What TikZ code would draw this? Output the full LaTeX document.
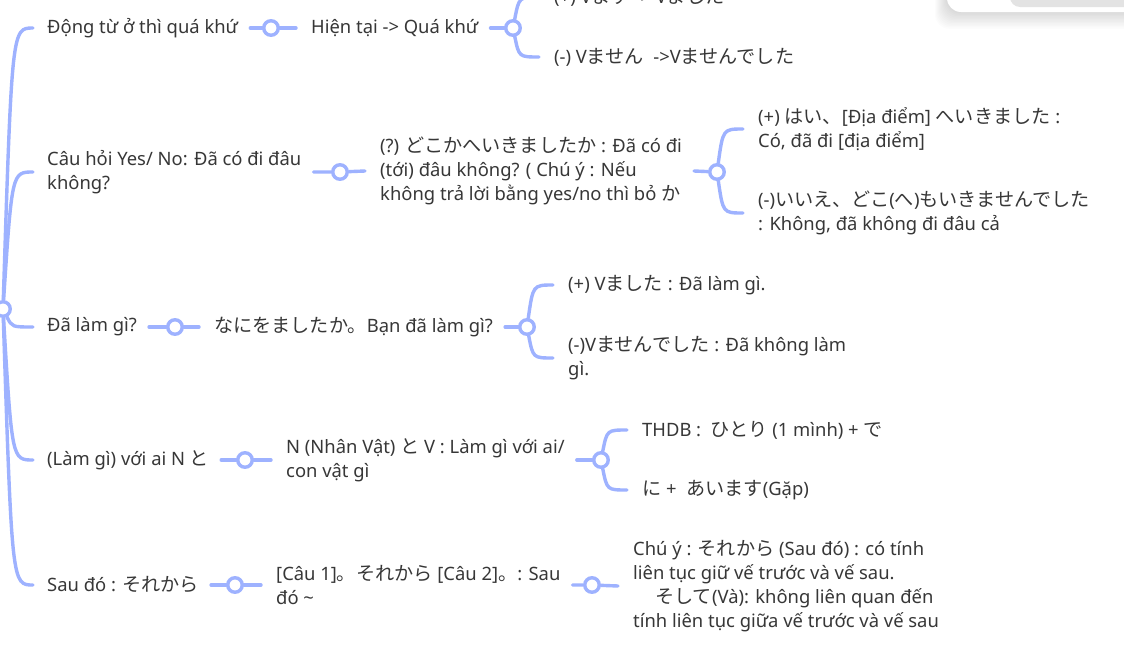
\documentclass[tikz,border=0pt]{standalone}
\usepackage{fontspec}
\setmainfont{Noto Sans}
\newfontfamily\jpf[Scale=1.04]{Noto Sans CJK JP}
\newcommand\jpt[1]{{\jpf #1}}
\usetikzlibrary{backgrounds,calc}
\definecolor{brc}{RGB}{158,178,255}
\definecolor{txtc}{RGB}{55,55,55}
\tikzset{
  br/.style={draw=brc, line width=3.4pt, line cap=round},
  knot/.style={circle, draw=brc, line width=3.4pt, fill=white, minimum size=14.5pt, inner sep=0pt},
  txt/.style={inner sep=0pt, anchor=west, align=left, text=txtc,
    font=\fontsize{18.4}{24}\selectfont},
}
\begin{document}
\begin{tikzpicture}[x=1pt,y=-1pt]
\useasboundingbox (0,0) rectangle (1124,653);
\begin{scope}[on background layer]
\fill[white] (0,0) rectangle (1124,653);
% UI overlay top right
\begin{scope}
\clip (0,0) rectangle (1124,653);
\foreach \s in {1,...,12}{
  \fill[black, opacity=0.012, rounded corners=14pt]
    ({947-\s},-30) rectangle ({1170+\s},{12+1.4*\s});
}
\fill[white, rounded corners=14pt] (947,-30) rectangle (1170,12);
\fill[black!11, rounded corners=10pt] (1010,-30) rectangle (1170,7);
\end{scope}
\end{scope}
\clip (0,0) rectangle (1124,653);

% root
\node[knot] (root) at (3,309) {};

% row 1
\node[txt] (c1) at (47,28) {Động từ ở thì quá khứ};
\node[knot] (k1a) at (271,28) {};
\node[txt] (c1b) at (311,28) {Hiện tại -> Quá khứ};
\node[knot] (k1b) at (513,28) {};
\node[txt] (c1p) at (554,-3) {(+) V\jpt{ます} -> V\jpt{ました}};
\node[txt] (c1m) at (554,57) {(-) V\jpt{ません}\ \ ->V\jpt{ませんでした}};

% row 2
\node[txt] (c2) at (47,172) {Câu hỏi Yes/ No: Đã có đi đâu\\không?};
\node[knot] (k2a) at (340,172) {};
\node[txt] (c2b) at (380,171) {(?) \jpt{どこかへいきましたか} : Đã có đi\\(tới) đâu không? ( Chú ý : Nếu\\không trả lời bằng yes/no thì bỏ \jpt{か}};
\node[knot] (k2b) at (717,172) {};
\node[txt] (c2p) at (758,129) {(+) \jpt{はい、}[Địa điểm] \jpt{へいきました} :\\Có, đã đi [địa điểm]};
\node[txt] (c2m) at (758,213) {(-)\jpt{いいえ、どこ}(\jpt{へ})\jpt{もいきませんでした}\\: Không, đã không đi đâu cả};

% row 3
\node[txt] (c3) at (47,327) {Đã làm gì?};
\node[knot] (k3a) at (175,327) {};
\node[txt] (c3b) at (214,327) {\jpt{なにをましたか。}Bạn đã làm gì?};
\node[knot] (k3b) at (527,327) {};
\node[txt] (c3p) at (568,285) {(+) V\jpt{ました} : Đã làm gì.};
\node[txt] (c3m) at (568,358) {(-)V\jpt{ませんでした} : Đã không làm\\gì.};

% row 4
\node[txt] (c4) at (47,460) {(Làm gì) với ai N \jpt{と}};
\node[knot] (k4a) at (245,460) {};
\node[txt] (c4b) at (286,460) {N (Nhân Vật) \jpt{と} V : Làm gì với ai/\\con vật gì};
\node[knot] (k4b) at (601,460) {};
\node[txt] (c4p) at (642,430) {THDB :\ \ \jpt{ひとり} (1 mình) + \jpt{で}};
\node[txt] (c4m) at (642,490) {\jpt{に} +\ \ \jpt{あいます}(Gặp)};

% row 5
\node[txt] (c5) at (47,585) {Sau đó : \jpt{それから}};
\node[knot] (k5a) at (235,585) {};
\node[txt] (c5b) at (276,585) {[Câu 1]\jpt{。それから} [Câu 2]\jpt{。}: Sau\\đó \textasciitilde};
\node[knot] (k5b) at (592,585) {};
\node[txt] (c5c) at (633,586) {Chú ý : \jpt{それから} (Sau đó) : có tính\\liên tục giữ vế trước và vế sau.\\\hspace*{22pt}\jpt{そして}(Và): không liên quan đến\\tính liên tục giữa vế trước và vế sau};

\begin{scope}[on background layer]
  % root edges
  \foreach \c in {c1,c2,c3,c4,c5}{
    \draw[br] (root) .. controls ([xshift=9pt]root.center |- \c.west) .. ([xshift=-14pt]\c.west);
  }
  % single connectors
  \draw[br] ([xshift=12pt]c1.east) -- (k1a) -- ([xshift=-15pt]c1b.west);
  \draw[br] ([xshift=12pt]c2.east) -- (k2a) -- ([xshift=-15pt]c2b.west);
  \draw[br] ([xshift=12pt]c3.east) -- (k3a) -- ([xshift=-15pt]c3b.west);
  \draw[br] ([xshift=12pt]c4.east) -- (k4a) -- ([xshift=-15pt]c4b.west);
  \draw[br] ([xshift=12pt]c5.east) -- (k5a) -- ([xshift=-15pt]c5b.west);
  \draw[br] ([xshift=12pt]c5b.east) -- (k5b) -- ([xshift=-15pt]c5c.west);
  % forks
  \draw[br] ([xshift=12pt]c1b.east) -- (k1b);
  \draw[br] ([xshift=12pt]c2b.east) -- (k2b);
  \draw[br] ([xshift=12pt]c3b.east) -- (k3b);
  \draw[br] ([xshift=12pt]c4b.east) -- (k4b);
  \foreach \k/\a/\b in {k1b/c1p/c1m, k2b/c2p/c2m, k3b/c3p/c3m, k4b/c4p/c4m}{
    \draw[br] (\k) .. controls ([xshift=6pt]\k.center |- \a.west) .. ([xshift=-15pt]\a.west);
    \draw[br] (\k) .. controls ([xshift=6pt]\k.center |- \b.west) .. ([xshift=-15pt]\b.west);
  }
\end{scope}
\end{tikzpicture}
\end{document}
